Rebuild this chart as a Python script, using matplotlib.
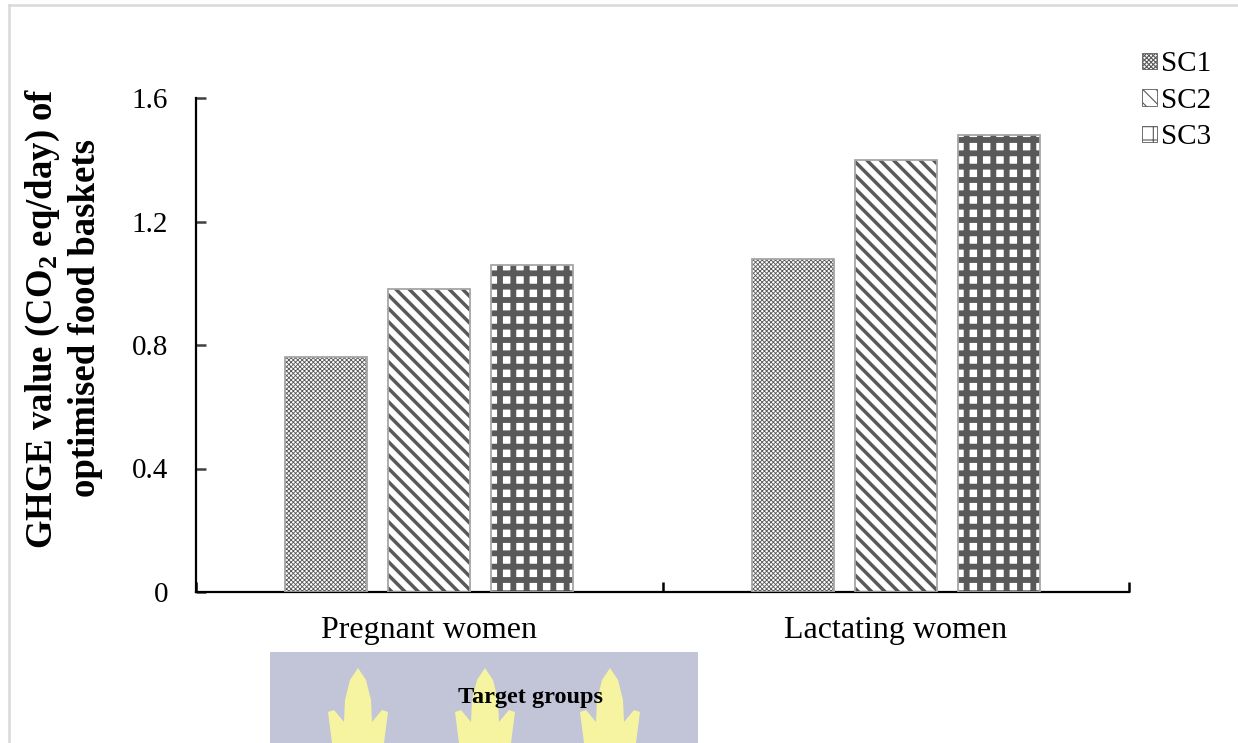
import matplotlib
matplotlib.use("Agg")
import matplotlib.pyplot as plt
import numpy as np
from matplotlib.patches import Rectangle, Polygon
from matplotlib.lines import Line2D

DPI = 80
W_PX, H_PX = 1238, 743
K = 100 / DPI  # point sizes below are given as for 100 dpi


def pt(v):
    return v * K


plt.rcParams['font.family'] = ['Liberation Serif', 'DejaVu Serif']
plt.rcParams['mathtext.fontset'] = 'custom'
plt.rcParams['mathtext.rm'] = 'Liberation Serif:bold'
plt.rcParams['mathtext.it'] = 'Liberation Serif:bold'
plt.rcParams['mathtext.bf'] = 'Liberation Serif:bold'

# Data
groups = ["Pregnant women", "Lactating women"]
scenarios = ["SC1", "SC2", "SC3"]
sc1 = [0.76, 1.08]
sc2 = [0.98, 1.40]
sc3 = [1.06, 1.48]
yticks = [0, 0.4, 0.8, 1.2, 1.6]
ytick_labels = ["0", "0.4", "0.8", "1.2", "1.6"]

series = [sc1, sc2, sc3]
hatches = ['xxxxxx', '\\\\', '+']
hatch_lw = [pt(0.62), pt(2.5), pt(4.2)]
hatch_color = '#595959'


def set_hatch_lw(patch, lw):
    if hasattr(patch, 'set_hatch_linewidth'):
        patch.set_hatch_linewidth(lw)
    else:
        patch._hatch_linewidth = lw


fig = plt.figure(figsize=(W_PX / DPI, H_PX / DPI), dpi=DPI)
ax = fig.add_axes([196 / W_PX, 1 - 592 / H_PX, (1129 - 196) / W_PX,
                   (592 - 98) / H_PX])

x = np.arange(len(groups))
width = 0.176
step = 0.221
for i, (vals, h, lw) in enumerate(zip(series, hatches, hatch_lw)):
    pos = x + (i - 1) * step
    with plt.rc_context({'hatch.linewidth': lw}):
        bars = ax.bar(pos, vals, width, color='white', edgecolor=hatch_color,
                      hatch=h, linewidth=0, zorder=2)
    for b in bars:
        set_hatch_lw(b, lw)
    ax.bar(pos, vals, width, fill=False, edgecolor='#a6a6a6',
           linewidth=pt(1.3), zorder=3)

ax.set_xlim(-0.5, 1.5)
ax.set_ylim(0, 1.6)
ax.set_yticks(yticks)
ax.set_yticklabels(ytick_labels)
ax.set_xticks([-0.5, 0.5, 1.5], minor=False)
ax.set_xticklabels(["", "", ""])
ax.set_xticks(x, minor=True)
ax.set_xticklabels(groups, minor=True)
ax.tick_params(axis='x', which='major', direction='in', length=pt(7),
               width=pt(1.8), color='black')
ax.tick_params(axis='x', which='minor', length=0, pad=pt(17),
               labelsize=pt(23))
ax.tick_params(axis='y', direction='in', length=pt(7), width=pt(1.8),
               pad=pt(20), labelsize=pt(21), color='#404040')

for s in ['top', 'right']:
    ax.spines[s].set_visible(False)
for s in ['left', 'bottom']:
    ax.spines[s].set_linewidth(pt(1.6))
    ax.spines[s].set_color('black')

# y-axis title
fig.text(0.051, 1 - 318 / H_PX,
         "GHGE value (CO$_{2}$ eq/day) of\noptimised food baskets",
         rotation=90, ha='center', va='center', fontsize=pt(26.5),
         fontweight='bold', linespacing=1.22)

# Watermark band behind the x-axis title
band = Rectangle((270 / W_PX, 0), (698 - 270) / W_PX, (H_PX - 652) / H_PX,
                 transform=fig.transFigure, facecolor='#c2c4d8',
                 edgecolor='none', zorder=0)
fig.patches.append(band)
for cx in [358, 485, 610]:
    px = lambda v: (cx + v) / W_PX
    py = lambda v: 1 - v / H_PX
    flame = Polygon([(px(0), py(668)), (px(8), py(680)), (px(13), py(700)),
                     (px(14), py(722)), (px(24), py(710)), (px(30), py(712)),
                     (px(26), py(743)), (px(-26), py(743)), (px(-30), py(712)),
                     (px(-24), py(710)), (px(-14), py(722)), (px(-13), py(700)),
                     (px(-8), py(680))],
                    closed=True, transform=fig.transFigure,
                    facecolor='#f6f4a0', edgecolor='none', zorder=0.5)
    fig.patches.append(flame)

fig.text(531 / W_PX, 1 - 698 / H_PX, "Target groups", ha='center',
         va='center', fontsize=pt(17.5), fontweight='bold', zorder=3)

# Legend
handles = []
for h, lw in zip(hatches, hatch_lw):
    r = Rectangle((0, 0), 1, 1, facecolor='white', edgecolor=hatch_color,
                  hatch=h, linewidth=pt(0.6))
    set_hatch_lw(r, lw * 0.7)
    handles.append(r)
leg = fig.legend(handles, scenarios, loc='upper left',
                 bbox_to_anchor=(1116 / W_PX, 1 - 25 / H_PX),
                 frameon=False, fontsize=pt(21), handlelength=0.5,
                 handleheight=0.5, handletextpad=0.15, labelspacing=0.36)

# Light page border
fig.add_artist(Line2D([9 / W_PX, 9 / W_PX], [0, 1 - 5 / H_PX],
                      transform=fig.transFigure, color='#d9d9d9', lw=pt(1.8)))
fig.add_artist(Line2D([9 / W_PX, 1], [1 - 5 / H_PX, 1 - 5 / H_PX],
                      transform=fig.transFigure, color='#d9d9d9', lw=pt(1.8)))

fig.savefig("out.png", dpi=DPI)
